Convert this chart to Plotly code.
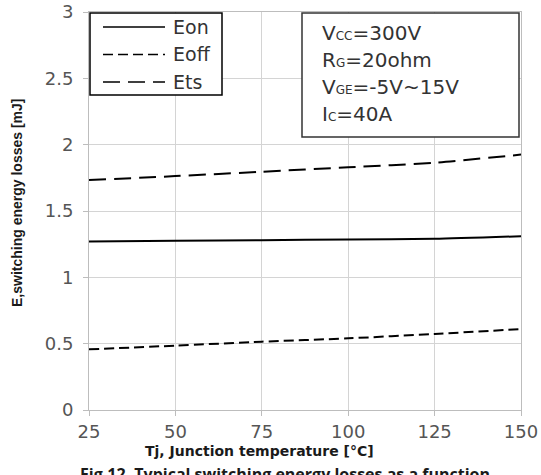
import plotly.graph_objects as go

# ---- data ----
tj = [25, 50, 75, 100, 125, 150]
e_on = [1.270, 1.275, 1.280, 1.285, 1.290, 1.310]
e_off = [0.457, 0.485, 0.515, 0.540, 0.573, 0.610]
e_ts = [1.733, 1.763, 1.796, 1.829, 1.864, 1.925]

series_names = ["Eon", "Eoff", "Ets"]
series_values = [e_on, e_off, e_ts]
series_dash = ["solid", "10px,5px", "17px,8px"]

x_ticks = [25, 50, 75, 100, 125, 150]
y_ticks = [0, 0.5, 1, 1.5, 2, 2.5, 3]
y_tick_text = ["0", "0.5", "1", "1.5", "2", "2.5", "3"]

cond_lines = [
    "V<span style='font-size:12px'>CC</span>=300V",
    "R<span style='font-size:12px'>G</span>=20ohm",
    "V<span style='font-size:12px'>GE</span>=-5V~15V",
    "I<span style='font-size:12px'>C</span>=40A",
]

W, H = 541, 475
L, R, T, B = 89, 20, 12, 65
pw, ph = W - L - R, H - T - B


def px_x(p):
    return (p - L) / pw


def px_y(p):
    return (H - B - p) / ph


fig = go.Figure()
for name, vals, dash in zip(series_names, series_values, series_dash):
    fig.add_trace(go.Scatter(
        x=tj, y=vals, name=name, mode="lines",
        line=dict(color="black", width=2, dash=dash, shape="spline", smoothing=0.6),
        showlegend=False,
    ))

shapes = []
annotations = []

# manual legend box
shapes.append(dict(type="rect", xref="paper", yref="paper",
                   x0=px_x(90), x1=px_x(222), y0=px_y(95), y1=px_y(13),
                   line=dict(color="black", width=1.5), fillcolor="white", layer="above"))
leg_rows = [27, 54.5, 82]
for name, dash, yy in zip(series_names, series_dash, leg_rows):
    shapes.append(dict(type="line", xref="paper", yref="paper",
                       x0=px_x(103), x1=px_x(165), y0=px_y(yy), y1=px_y(yy),
                       line=dict(color="black", width=1.6, dash=dash), layer="above"))
    annotations.append(dict(text=name, xref="paper", yref="paper",
                            x=px_x(171), y=px_y(yy), xanchor="left", yanchor="middle",
                            showarrow=False,
                            font=dict(family="DejaVu Sans", size=19, color="#333333")))

# conditions box
shapes.append(dict(type="rect", xref="paper", yref="paper",
                   x0=px_x(302), x1=px_x(519), y0=px_y(137), y1=px_y(13),
                   line=dict(color="#333333", width=1.5), fillcolor="white", layer="above"))
for txt, yy in zip(cond_lines, [33, 60.5, 87.5, 114.5]):
    annotations.append(dict(text=txt, xref="paper", yref="paper",
                            x=px_x(320), y=px_y(yy), xanchor="left", yanchor="middle",
                            showarrow=False,
                            font=dict(family="DejaVu Sans", size=20, color="#333333")))

# axis titles
annotations.append(dict(text="<b>Tj, Junction temperature [°C]</b>", xref="paper", yref="paper",
                        x=px_x(259), y=px_y(451), xanchor="center", yanchor="middle",
                        showarrow=False,
                        font=dict(family="DejaVu Sans", size=14, color="#1a1a1a")))
annotations.append(dict(text="<b>E,switching energy losses [mJ]</b>", xref="paper", yref="paper",
                        x=px_x(17), y=px_y(203), xanchor="center", yanchor="middle",
                        textangle=-90, showarrow=False,
                        font=dict(family="Liberation Sans", size=14, color="#1a1a1a")))
# cut-off caption
annotations.append(dict(text="<b>Fig.12. Typical switching energy losses as a function</b>",
                        xref="paper", yref="paper",
                        x=px_x(285), y=px_y(474), xanchor="center", yanchor="middle",
                        showarrow=False,
                        font=dict(family="Open Sans", size=16, color="#1a1a1a")))

axis_common = dict(
    showgrid=True, gridcolor="#d4d4d4", gridwidth=1,
    showline=True, linecolor="#bdbdbd", linewidth=1, mirror=True,
    ticks="outside", ticklen=5, tickcolor="#bdbdbd", tickwidth=1,
    zeroline=False, automargin=False,
    tickfont=dict(family="DejaVu Sans", size=18, color="#555555"),
)

fig.update_layout(
    template="none",
    width=W, height=H,
    margin=dict(l=L, r=R, t=T, b=B),
    paper_bgcolor="white", plot_bgcolor="white",
    xaxis=dict(range=[25, 150], tickvals=x_ticks, ticktext=[str(v) for v in x_ticks],
               ticklabelstandoff=0, **axis_common),
    yaxis=dict(range=[0, 3], tickvals=y_ticks, ticktext=y_tick_text,
               ticklabelstandoff=6, **axis_common),
    shapes=shapes,
    annotations=annotations,
)

fig.write_html("out.html")
